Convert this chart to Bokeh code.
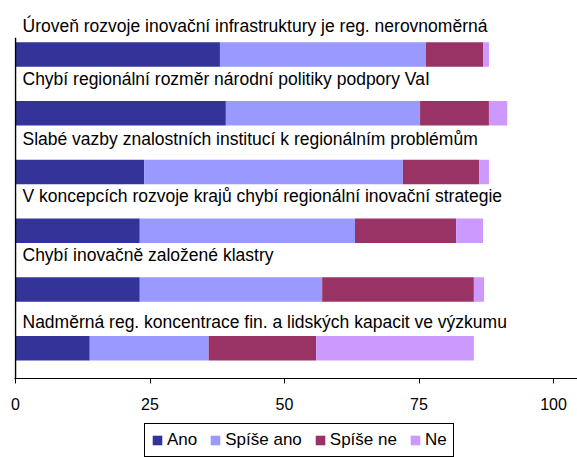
from bokeh.plotting import figure
from bokeh.layouts import column
from bokeh.models import ColumnDataSource, Range1d, FixedTicker, Legend, LegendItem
from bokeh.core.properties import value
from bokeh.embed import file_html
from bokeh.resources import INLINE

# ---- data -------------------------------------------------------------
categories = [
    "Úroveň rozvoje inovační infrastruktury je reg. nerovnoměrná",
    "Chybí regionální rozměr národní politiky podpory VaI",
    "Slabé vazby znalostních institucí k regionálním problémům",
    "V koncepcích rozvoje krajů chybí regionální inovační strategie",
    "Chybí inovačně založené klastry",
    "Nadměrná reg. koncentrace fin. a lidských kapacit ve výzkumu",
]
series_names = ["Ano", "Spíše ano", "Spíše ne", "Ne"]
ano = [38.0, 39.1, 23.9, 23.1, 23.1, 13.8]
spise_ano = [38.3, 36.1, 48.1, 40.0, 33.9, 22.1]
spise_ne = [10.6, 12.8, 14.2, 18.8, 28.2, 20.0]
ne = [1.1, 3.4, 1.8, 5.0, 1.9, 29.3]
x_ticks = [0, 25, 50, 75, 100]

# ---- styling / layout -------------------------------------------------
colors = ["#333399", "#9999FF", "#993366", "#CC99FF"]
FONT = "Liberation Sans"
keys = ["ano", "spise_ano", "spise_ne", "ne"]
label_dy = [-29, -34, -33, -35, -35, -26]   # label offset above bar centre (px)
Y_LO, Y_HI = -0.514, 5.784     # visible vertical range (row units)
AXIS_TOP = 5.285               # where the left axis line starts

n = len(categories)
ypos = [n - 1 - i for i in range(n)]
source = ColumnDataSource(dict(
    y=ypos, label=categories, dy=label_dy,
    ano=ano, spise_ano=spise_ano, spise_ne=spise_ne, ne=ne,
))

p = figure(width=577, height=420,
           x_range=Range1d(-0.186, 104.46), y_range=Range1d(Y_LO, Y_HI),
           output_backend="svg", toolbar_location=None,
           min_border_left=14, min_border_right=0, min_border_top=8,
           min_border_bottom=42,
           background_fill_color="white", border_fill_color="white",
           outline_line_color=None)
p.grid.visible = False
p.yaxis.visible = False

p.hbar_stack(keys, y="y", height=0.418, fill_color=colors,
             line_color=None, source=source)

# left axis line
p.segment(x0=0, y0=Y_LO, x1=0, y1=AXIS_TOP, line_color="black", line_width=1.5)

p.text(x=0, y="y", text="label", source=source,
       x_offset=7, y_offset="dy",
       text_font=value(FONT), text_font_size="17.5px", text_color="black",
       text_baseline="alphabetic", text_align="left")

# x axis
xa = p.xaxis[0]
xa.ticker = FixedTicker(ticks=x_ticks)
xa.axis_line_color = "black"
xa.axis_line_width = 1
xa.major_tick_line_color = "black"
xa.major_tick_out = 5
xa.major_tick_in = 0
xa.minor_tick_out = 0
xa.minor_tick_in = 0
xa.major_label_standoff = 14
xa.major_label_text_font = FONT
xa.major_label_text_font_size = "16px"
xa.major_label_text_color = "black"

# ---- legend strip (separate figure below the chart) -------------------
pl = figure(width=577, height=37,
            x_range=Range1d(1000, 1001), y_range=Range1d(1000, 1001),
            output_backend="svg", toolbar_location=None,
            min_border=0, outline_line_color=None,
            background_fill_color="white", border_fill_color="white")
pl.axis.visible = False
pl.grid.visible = False
leg_renderers = pl.hbar_stack(keys, y="y", height=0.418, fill_color=colors,
                              line_color=None, source=source)

legend = Legend(
    items=[LegendItem(label=nm, renderers=[r]) for nm, r in zip(series_names, leg_renderers)],
    orientation="horizontal", location=(130, 0),
    border_line_color="black", border_line_width=1, border_line_alpha=1,
    background_fill_color="white", background_fill_alpha=1,
    label_text_font=FONT, label_text_font_size="17px", label_text_color="black",
    glyph_width=12, glyph_height=12, label_standoff=4, spacing=12,
    padding=6, margin=0, label_height=12,
)
pl.add_layout(legend)

layout = column(p, pl, spacing=0)
open("out.html", "w").write(file_html(layout, INLINE))
